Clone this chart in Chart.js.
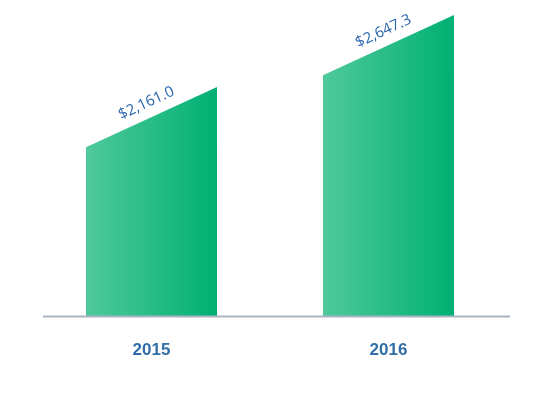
<!DOCTYPE html>
<html lang="en">
<head>
    <meta charset="UTF-8">
    <script src="https://cdn.jsdelivr.net/npm/chart.js"></script>
    <title>Revenue 2015-2016</title>
</head>
<style>
    body { margin: 0; background: #fff; }
    .Chart { width: 555px; height: 394px; }
</style>
<body>
    <div class="Chart"><canvas id="revChart"></canvas></div>
</body>
<script>
    // data
    const years = ['2015', '2016'];
    const revenue = [2161.0, 2647.3];
    const valueLabels = ['$2,161.0', '$2,647.3'];

    // draws each bar as a trapezoid with a slanted top plus a rotated value label
    const slantBars = {
        id: 'slantBars',
        afterDatasetsDraw(chart) {
            const ctx = chart.ctx;
            const meta = chart.getDatasetMeta(0);
            const area = chart.chartArea;

            meta.data.forEach((bar, i) => {
                const left = bar.x - bar.width / 2;
                const right = bar.x + bar.width / 2;
                const drop = bar.width * 0.46;
                const grad = ctx.createLinearGradient(left, 0, right, 0);
                grad.addColorStop(0, '#4fc99b');
                grad.addColorStop(1, '#00b073');

                ctx.save();
                ctx.fillStyle = grad;
                ctx.beginPath();
                ctx.moveTo(left, area.bottom);
                ctx.lineTo(left, bar.y + drop);
                ctx.lineTo(right, bar.y);
                ctx.lineTo(right, area.bottom);
                ctx.closePath();
                ctx.fill();
                ctx.restore();

                // label along the slant
                const ang = Math.atan2(drop, bar.width);
                const mx = bar.x, my = bar.y + drop / 2;
                ctx.save();
                ctx.translate(mx - 5, my - 14);
                ctx.rotate(-ang);
                ctx.fillStyle = '#2a66ad';
                ctx.font = '15px "Open Sans", "Liberation Sans", sans-serif';
                ctx.textAlign = 'center';
                ctx.textBaseline = 'middle';
                ctx.fillText(valueLabels[i], 0, 0);
                ctx.restore();
            });

            // baseline
            ctx.save();
            ctx.strokeStyle = '#aab4c1';
            ctx.lineWidth = 2;
            ctx.beginPath();
            ctx.moveTo(area.left + 10, area.bottom);
            ctx.lineTo(area.right + 3, area.bottom);
            ctx.stroke();
            ctx.restore();
        }
    };

    const ctx = document.getElementById('revChart').getContext('2d');
    const chart = new Chart(ctx, {
        type: 'bar',
        data: {
            labels: years,
            datasets: [{
                data: revenue,
                backgroundColor: 'rgba(0,0,0,0)',
                borderWidth: 0,
                barPercentage: 0.553,
                categoryPercentage: 1.0
            }]
        },
        options: {
            responsive: true,
            maintainAspectRatio: false,
            animation: false,
            layout: { padding: { left: 33, right: 48, top: 0, bottom: 17 } },
            plugins: { legend: { display: false }, tooltip: { enabled: false } },
            scales: {
                x: {
                    grid: { display: false },
                    border: { display: false },
                    ticks: {
                        padding: 16,
                        color: '#2f6ea6',
                        font: { family: '"Liberation Sans", Arial, sans-serif', size: 17, weight: 'bold' }
                    }
                },
                y: {
                    display: false,
                    min: 611,
                    max: 2749
                }
            }
        },
        plugins: [slantBars]
    });
</script>
</html>
